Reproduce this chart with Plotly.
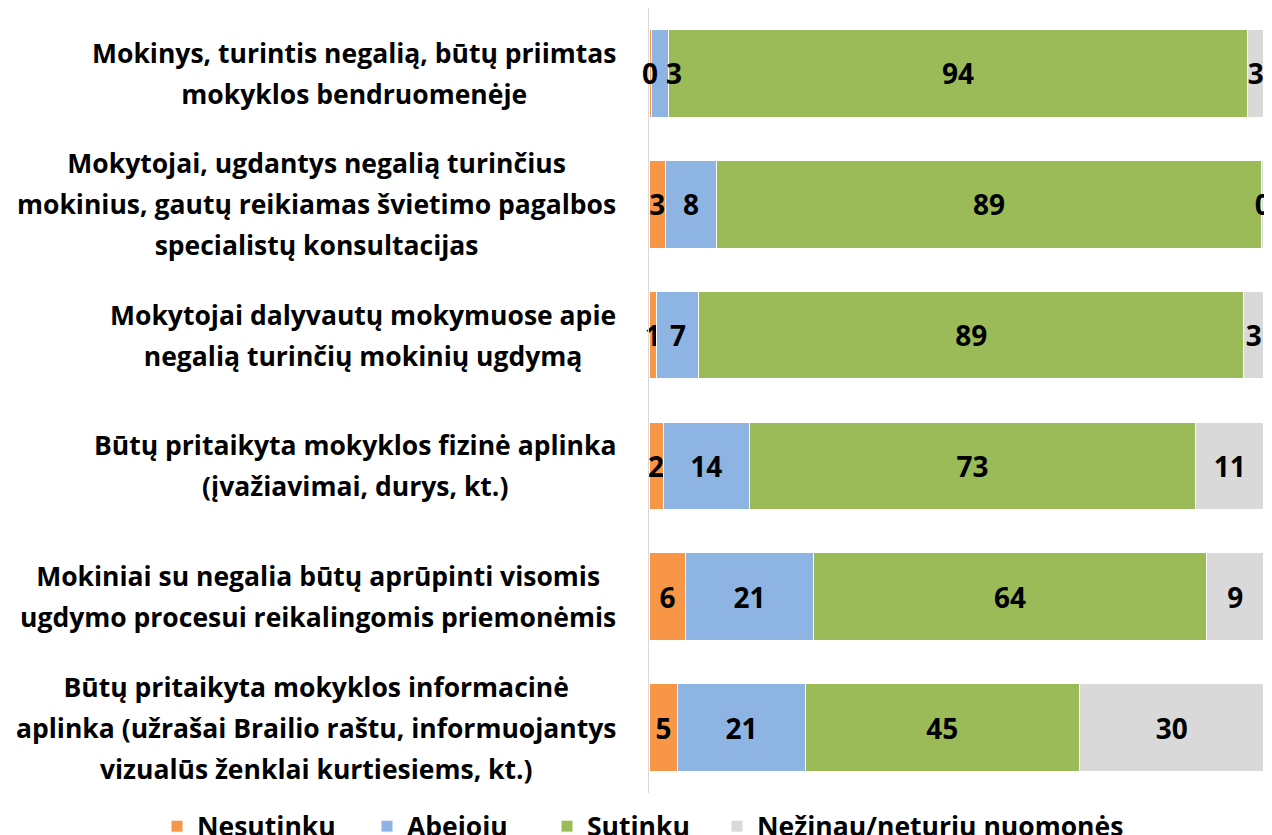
import plotly.graph_objects as go

categories = [
    "Mokinys, turintis negalią, būtų priimtas<br>mokyklos bendruomenėje",
    "Mokytojai, ugdantys negalią turinčius<br>mokinius, gautų reikiamas švietimo pagalbos<br>specialistų konsultacijas",
    "Mokytojai dalyvautų mokymuose apie<br>negalią turinčių mokinių ugdymą",
    "Būtų pritaikyta mokyklos fizinė aplinka<br>(įvažiavimai, durys, kt.)",
    "Mokiniai su negalia būtų aprūpinti visomis<br>ugdymo procesui reikalingomis priemonėmis",
    "Būtų pritaikyta mokyklos informacinė<br>aplinka (užrašai Brailio raštu, informuojantys<br>vizualūs ženklai kurtiesiems, kt.)",
]
series_names = ["Nesutinku", "Abejoju", "Sutinku", "Nežinau/neturiu nuomonės"]
nesutinku = [0.4, 2.7, 1.3, 2.3, 6.0, 4.7]
abejoju = [2.8, 8.3, 6.8, 14.0, 20.7, 20.7]
sutinku = [94.1, 88.6, 88.6, 72.6, 64.0, 44.6]
nezinau = [2.7, 0.4, 3.3, 11.1, 9.3, 30.0]
colors = ["#F79646", "#8EB4E3", "#9BBB59", "#D9D9D9"]
legend_widths = [165, 135, 125, 0]

ids = [f"c{i}" for i in range(len(categories))]
FONT = "Open Sans"
FS = 26.5
FS_NUM = 28
NUMFONT = dict(family=FONT, size=FS_NUM, color="black", weight="bold")

fig = go.Figure()
for si, (name, vals, col, lw) in enumerate(zip(series_names, [nesutinku, abejoju, sutinku, nezinau], colors, legend_widths)):
    templates = ["%{x:.0f}"] * len(vals)
    if si in (0, 1):
        templates[0] = ""  # first-row labels of the narrow segments drawn on top below
    fig.add_trace(go.Bar(
        y=ids, x=vals, name=name, orientation="h",
        marker=dict(color=col, line=dict(color="white", width=1)),
        text=vals, texttemplate=templates, textposition="inside",
        insidetextanchor="middle", textangle=0,
        textfont=NUMFONT,
        cliponaxis=False,
        legendwidth=lw if lw else None,
    ))

# labels of the two narrow segments of the first row, drawn above the bars
fig.add_annotation(
    x=nesutinku[0] / 2, xref="x", y=ids[0], yref="y",
    text=f"{nesutinku[0]:.0f}", showarrow=False, xshift=0,
    font=NUMFONT,
)
fig.add_annotation(
    x=nesutinku[0] + abejoju[0] / 2, xref="x", y=ids[0], yref="y",
    text=f"{abejoju[0]:.0f}", showarrow=False, xshift=14,
    font=NUMFONT,
)

for cid, label in zip(ids, categories):
    lines = label.split("<br>")
    txt = "<br>".join(f"<span style='font-size:{FS}px'>{l}</span>" for l in lines)
    fig.add_annotation(
        x=0, xref="paper", y=cid, yref="y", text=txt, showarrow=False,
        xanchor="right", yanchor="middle", align="center", xshift=-31,
        font=dict(family=FONT, size=31.5, color="black", weight="bold"),
    )

fig.update_layout(
    barmode="stack", bargap=0.33,
    width=1264, height=827,
    margin=dict(l=641, r=8, t=0, b=41.5, autoexpand=False),
    plot_bgcolor="white", paper_bgcolor="white",
    uniformtext=dict(minsize=FS_NUM, mode="show"),
    showlegend=True,
    legend=dict(
        orientation="h", xref="paper", x=-0.80, xanchor="left",
        yref="paper", y=-0.012, yanchor="top",
        font=dict(family=FONT, size=26.5, color="black", weight="bold"),
        traceorder="normal",
    ),
    xaxis=dict(range=[0, 100.01], showticklabels=False, showgrid=False, zeroline=False,
               fixedrange=True),
    yaxis=dict(autorange="reversed", showticklabels=False, showgrid=False,
               showline=True, linecolor="#D9D9D9", linewidth=1, ticks=""),
)

fig.write_html("out.html")
